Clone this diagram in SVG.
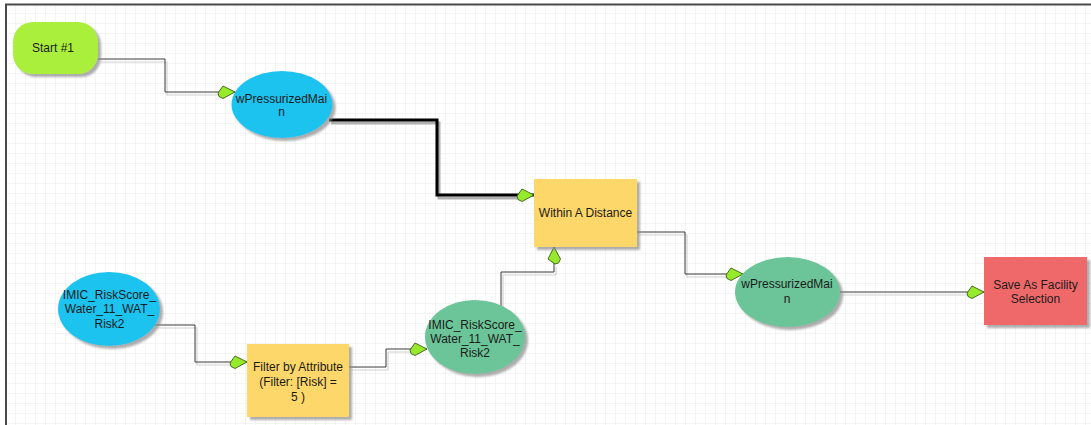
<svg xmlns="http://www.w3.org/2000/svg" width="1091" height="425" viewBox="0 0 1091 425">
  <defs>
    <pattern id="grid" width="10" height="10" patternUnits="userSpaceOnUse" x="6" y="4">
      <path d="M10,0 V10 M0,10 H10" fill="none" stroke="#e9e9e9" stroke-width="1"/>
    </pattern>
    <filter id="shadow" x="-10%" y="-10%" width="130%" height="130%">
      <feDropShadow dx="3" dy="3" stdDeviation="1" flood-color="#8a8a8a" flood-opacity="0.7"/>
    </filter>
    <marker id="arrow" markerUnits="userSpaceOnUse" markerWidth="22" markerHeight="16" viewBox="-19 -8 22 16" refX="0" refY="0" orient="auto">
      <polygon points="-17,1 -12,-6 0,0 -12,6.5 -16,4.5" fill="#96ea2c" stroke="#3f5a14" stroke-width="0.9" stroke-linejoin="round"/>
    </marker>
    <style>
      .lbl { font-family: "Liberation Sans", Arial, sans-serif; font-size: 12px; fill: #1b1b1b; text-anchor: middle; }
      .wire { fill: none; stroke: #3a3a3a; stroke-width: 1; }
      .wire-shadow { fill: none; stroke: #d2d2d2; stroke-width: 1.2; }
      .heavy { fill: none; stroke: #000; stroke-width: 3; }
      .heavy-shadow { fill: none; stroke: #b0b0b0; stroke-width: 3; }
      .node { filter: url(#shadow); }
    </style>
  </defs>

  <!-- canvas -->
  <rect x="0" y="0" width="1091" height="425" fill="#ffffff"/>
  <rect x="6" y="4" width="1085" height="421" fill="url(#grid)"/>
  <path d="M6,425 V4.5 H1091" fill="none" stroke="#4a4a4a" stroke-width="2"/>

  <!-- connectors -->
  <g id="connectors">
    <g transform="translate(2,3)">
      <path class="wire-shadow" d="M98,59 H165 V92 H219"/>
      <path class="heavy-shadow" d="M329,120 H437 V195 H517"/>
      <path class="wire-shadow" d="M155,325 H195 V362 H230"/>
      <path class="wire-shadow" d="M349,367 H386 V349 H410"/>
      <path class="wire-shadow" d="M501,306 V272 H554 V264"/>
      <path class="wire-shadow" d="M636,232 H685 V274 H726"/>
      <path class="wire-shadow" d="M840,292 H967"/>
    </g>
    <path class="wire" d="M98,59 H165 V92 H235" marker-end="url(#arrow)"/>
    <path class="heavy" d="M329,120 H437 V195 H534" marker-end="url(#arrow)"/>
    <path class="wire" d="M155,325 H195 V362 H247" marker-end="url(#arrow)"/>
    <path class="wire" d="M349,367 H386 V349 H427" marker-end="url(#arrow)"/>
    <path class="wire" d="M501,306 V272 H554 V247" marker-end="url(#arrow)"/>
    <path class="wire" d="M636,232 H685 V274 H743" marker-end="url(#arrow)"/>
    <path class="wire" d="M840,292 H984" marker-end="url(#arrow)"/>
  </g>

  <!-- nodes -->
  <g id="start">
    <rect class="node" x="13" y="22" width="85" height="52" rx="20" ry="20" fill="#abef3c"/>
    <text class="lbl" x="53" y="52">Start #1</text>
  </g>

  <g id="wPressurizedMain-input">
    <ellipse class="node" cx="282" cy="104.5" rx="50.5" ry="33.5" fill="#1fc3ef"/>
    <text class="lbl" x="281.5" y="103">wPressurizedMai</text>
    <text class="lbl" x="281.5" y="116">n</text>
  </g>

  <g id="within-a-distance">
    <rect class="node" x="534" y="179" width="103" height="68" fill="#fdd76a"/>
    <text class="lbl" x="585.5" y="217">Within A Distance</text>
  </g>

  <g id="risk-input">
    <ellipse class="node" cx="109" cy="309" rx="51" ry="37" fill="#1fc3ef"/>
    <text class="lbl" x="109.5" y="299">IMIC_RiskScore_</text>
    <text class="lbl" x="109.5" y="313">Water_11_WAT_</text>
    <text class="lbl" x="109.5" y="328">Risk2</text>
  </g>

  <g id="filter-by-attribute">
    <rect class="node" x="247" y="344" width="102" height="73" fill="#fdd76a"/>
    <text class="lbl" x="298" y="371">Filter by Attribute</text>
    <text class="lbl" x="298" y="386">(Filter: [Risk] =</text>
    <text class="lbl" x="298" y="401">5 )</text>
  </g>

  <g id="risk-filtered">
    <ellipse class="node" cx="475" cy="337" rx="50" ry="37" fill="#6cc598"/>
    <text class="lbl" x="475" y="329">IMIC_RiskScore_</text>
    <text class="lbl" x="475" y="343">Water_11_WAT_</text>
    <text class="lbl" x="475" y="357">Risk2</text>
  </g>

  <g id="wPressurizedMain-output">
    <ellipse class="node" cx="787.5" cy="292" rx="52.5" ry="35" fill="#6cc598"/>
    <text class="lbl" x="787" y="288">wPressurizedMai</text>
    <text class="lbl" x="787" y="303">n</text>
  </g>

  <g id="save-as-facility-selection">
    <rect class="node" x="984" y="257" width="103" height="68" fill="#f0696b"/>
    <text class="lbl" x="1035.5" y="289">Save As Facility</text>
    <text class="lbl" x="1035.5" y="303">Selection</text>
  </g>
</svg>
